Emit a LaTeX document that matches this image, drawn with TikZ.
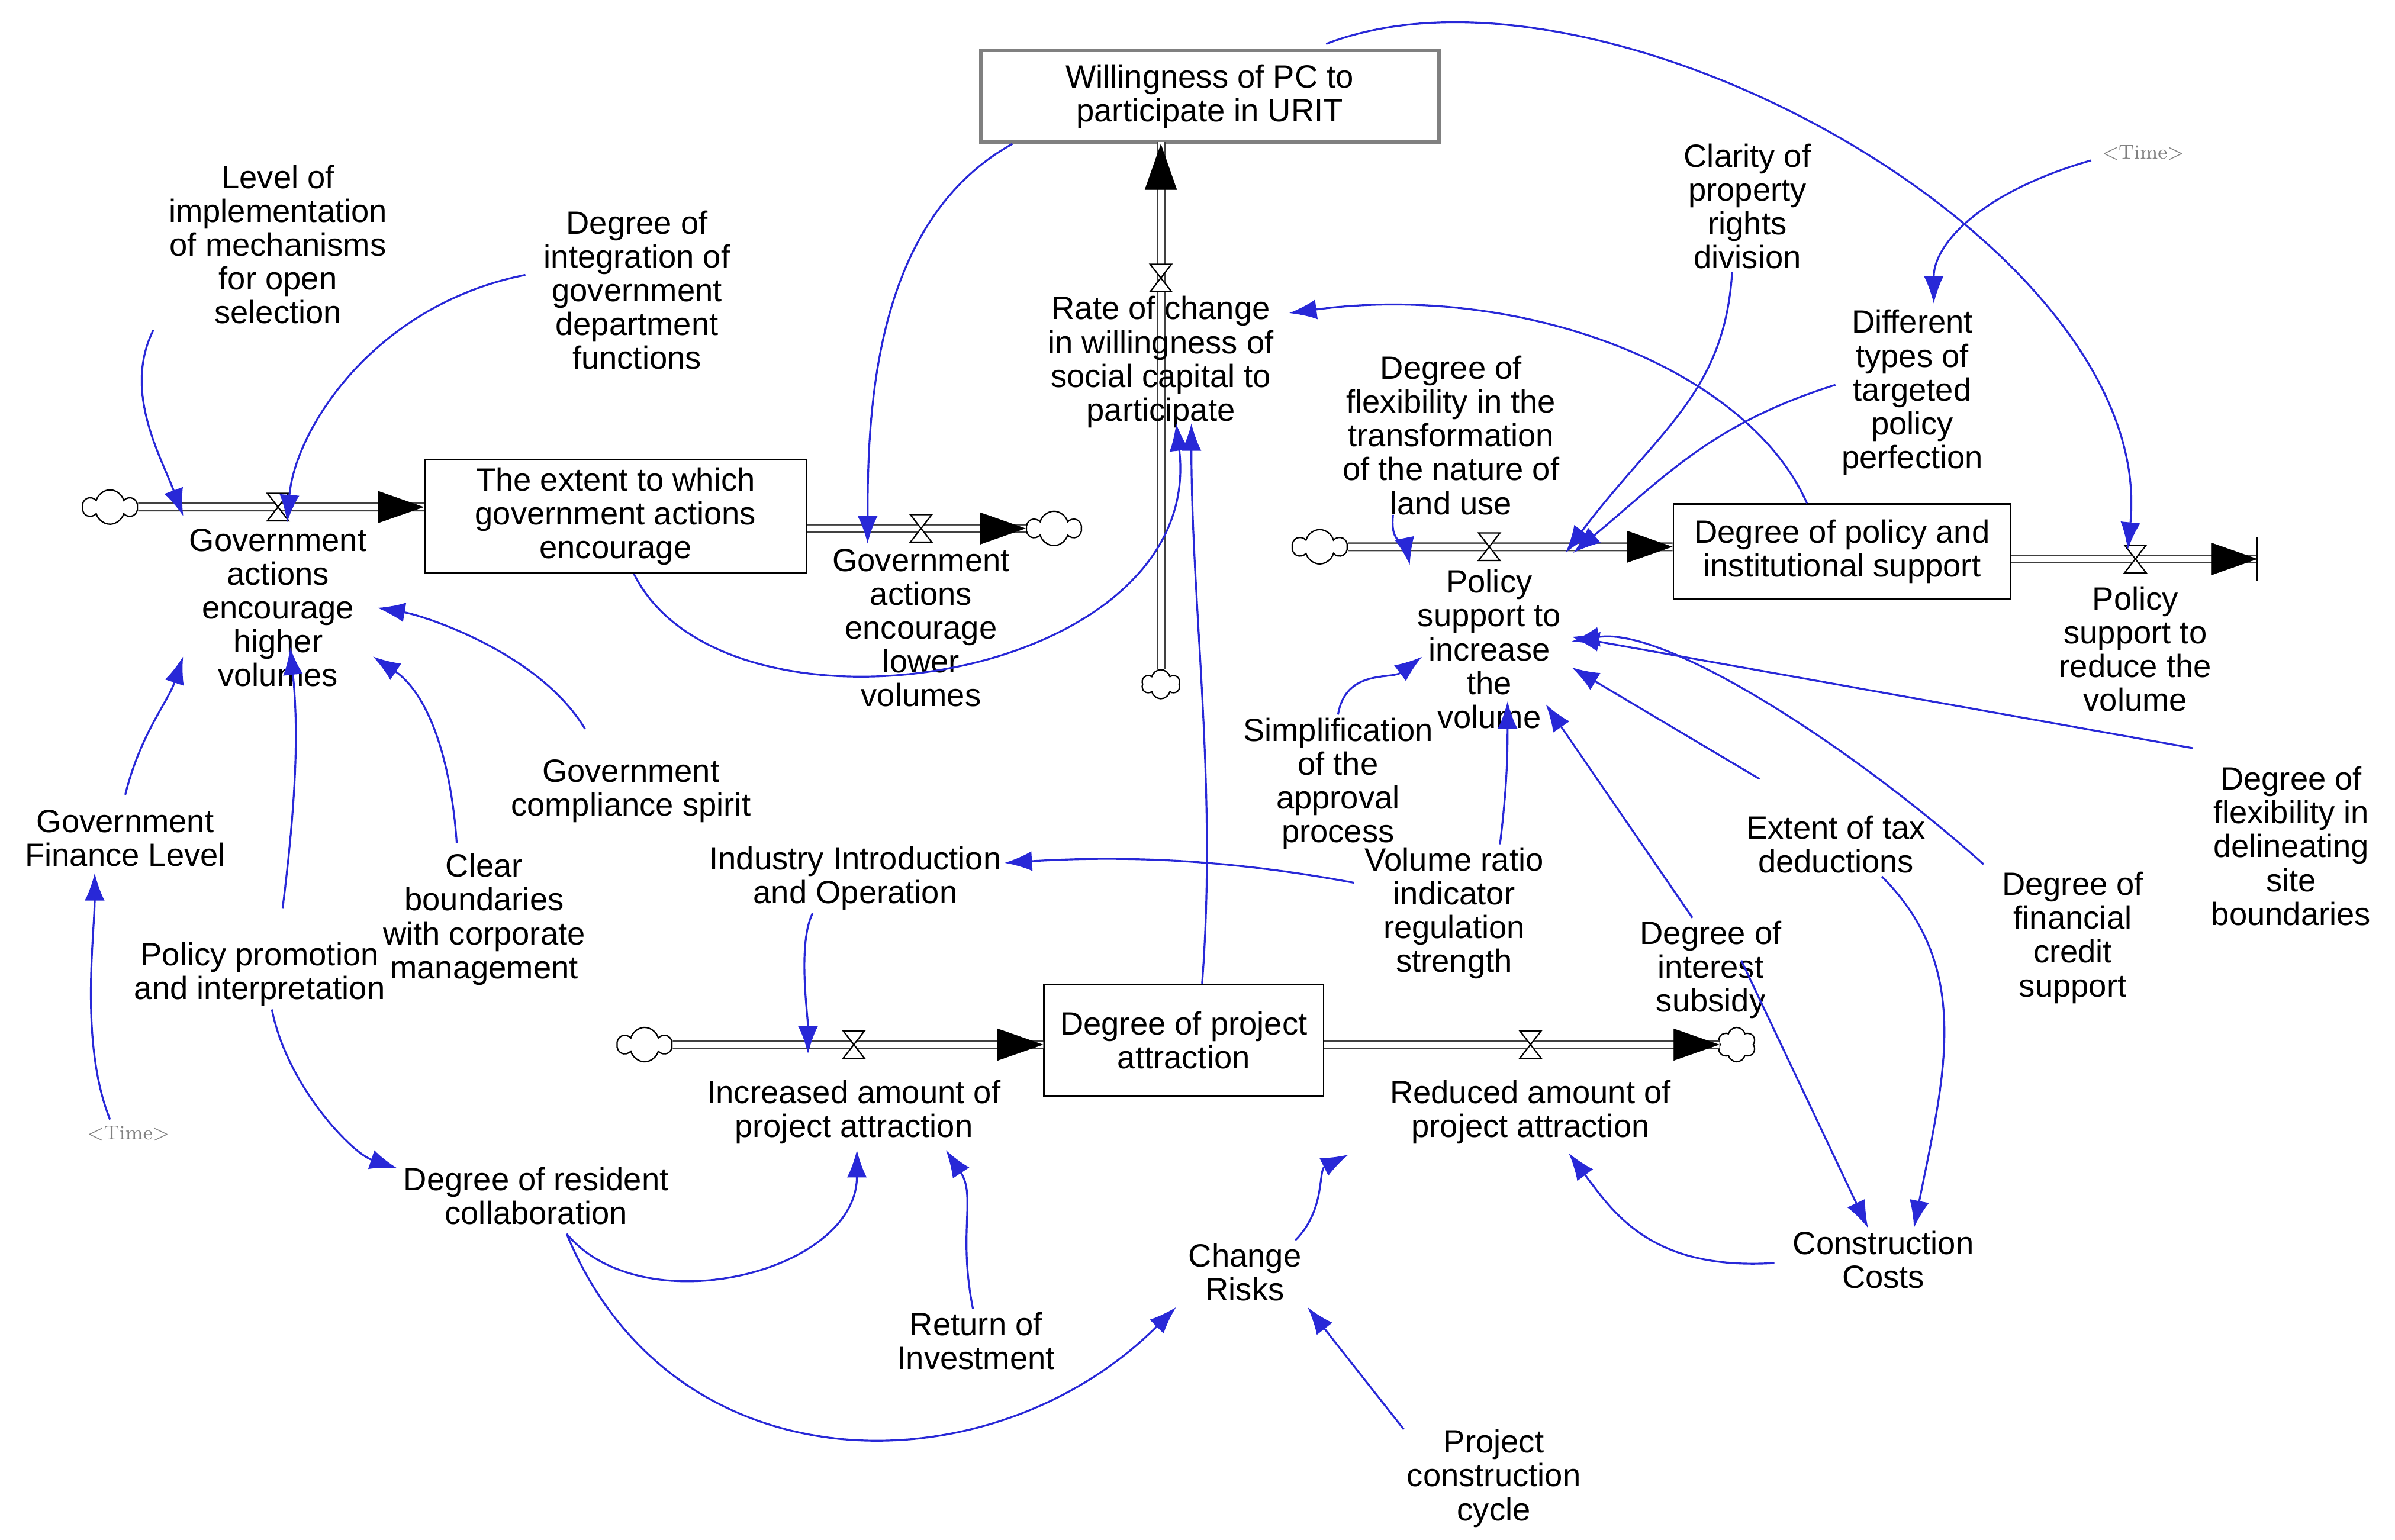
\documentclass[tikz,border=0pt]{standalone}
\usepackage{fontspec}
\setmainfont{Liberation Sans}
\usetikzlibrary{arrows.meta,calc,shapes.symbols}
\definecolor{lk}{RGB}{40,40,215}
\begin{document}
\begin{tikzpicture}[x=0.02cm,y=-0.02cm,
  txt/.style={align=center,inner sep=1pt,font=\fontsize{12}{12.6}\selectfont},
  stock/.style={txt,draw,line width=0.6pt,inner sep=3pt},
  tm/.style={inner sep=1pt,text=gray,font=\fontfamily{lmr}\fontsize{7.5}{8}\selectfont},
  lnk/.style={draw=lk,line width=0.7pt,-{Latex[length=0.36cm,width=0.26cm]}},
  pipe/.style={draw=black!75,double=white,double distance=2.2pt,line width=0.55pt},
  tip/.style={-{Triangle[length=0.6cm,width=0.42cm]},line width=0.1pt},
  cld/.style={cloud,cloud puffs=6,draw,line width=0.5pt,minimum width=0.7cm,minimum height=0.45cm,inner sep=0pt,fill=white},
  valve/.pic={\draw[line width=0.5pt,fill=white] (-7,-9)--(7,-9)--(-7,9)--(7,9)--cycle;}]
\useasboundingbox (0,0) rectangle (1568,1008);
% stocks
\node[stock,draw=gray,line width=1.4pt,minimum width=6cm,minimum height=1.2cm] (W) at (792,63) {Willingness of PC to\\participate in URIT};
\node[stock,minimum width=5cm,minimum height=1.2cm] (E) at (403,338) {The extent to which\\government actions\\encourage};
\node[stock,minimum width=4.42cm,minimum height=1.24cm] (D) at (1206,361) {Degree of policy and\\institutional support};
\node[stock,minimum width=3.66cm,minimum height=1.46cm] (P) at (775,681) {Degree of project\\attraction};
% clouds
\node[cld] (c1) at (72,332) {};
\node[cld] (c2) at (690,346) {};
\node[cld,minimum width=0.5cm,minimum height=0.38cm] (c3) at (760,448) {};
\node[cld] (c4) at (864,358) {};
\node[cld] (c6) at (422,684) {};
\node[cld,minimum width=0.5cm] (c7) at (1137,684) {};
\coordinate (e5) at (1478,366);
% pipes
\draw[pipe] (c1.east) -- (E.west|-c1);
\draw[tip] ($(E.west|-c1)+(-30,0)$) -- (E.west|-c1);
\draw[pipe] (E.east|-c2) -- (c2.west);
\draw[tip] ($(c2.west)+(-30,0)$) -- (c2.west);
\draw[pipe] (c3.north) -- (760,93);
\draw[tip] (760,123) -- (W.south-|760,0);
\draw[pipe] (c4.east) -- (D.west|-c4);
\draw[tip] ($(D.west|-c4)+(-30,0)$) -- (D.west|-c4);
\draw[pipe] (D.east|-e5) -- (e5);
\draw[tip] ($(e5)+(-30,0)$) -- (e5);
\draw[line width=0.6pt] ($(e5)+(0,-14)$) -- ($(e5)+(0,14)$);
\draw[pipe] (c6.east) -- (P.west|-c6);
\draw[tip] ($(P.west|-c6)+(-30,0)$) -- (P.west|-c6);
\draw[pipe] (P.east|-c7) -- (c7.west);
\draw[tip] ($(c7.west)+(-30,0)$) -- (c7.west);
% valves
\pic at (182,332) {valve}; \coordinate (v1) at (182,332);
\pic at (603,346) {valve}; \coordinate (v2) at (603,346);
\pic at (760,182) {valve}; \coordinate (v3) at (760,182);
\pic at (975,358) {valve}; \coordinate (v4) at (975,358);
\pic at (1398,366) {valve}; \coordinate (v5) at (1398,366);
\pic at (559,684) {valve}; \coordinate (v6) at (559,684);
\pic at (1002,684) {valve}; \coordinate (v7) at (1002,684);
% flow labels
\node[txt] (hi) at (182,398) {Government\\actions\\encourage\\higher\\volumes};
\node[txt] (lo) at (603,411) {Government\\actions\\encourage\\lower\\volumes};
\node[txt] (rate) at (760,237) {Rate of change\\in willingness of\\social capital to\\participate};
\node[txt] (inc) at (975,425) {Policy\\support to\\increase\\the\\volume};
\node[txt] (red) at (1398,425) {Policy\\support to\\reduce the\\volume};
\node[txt] (pin) at (559,728) {Increased amount of\\project attraction};
\node[txt] (pout) at (1002,728) {Reduced amount of\\project attraction};
% auxiliaries
\node[txt] (lvl) at (182,160) {Level of\\implementation\\of mechanisms\\for open\\selection};
\node[txt] (integ) at (417,190) {Degree of\\integration of\\government\\department\\functions};
\node[txt] (clar) at (1144,135) {Clarity of\\property\\rights\\division};
\node[tm] (t1) at (1403,100) {<Time>};
\node[txt] (diff) at (1252,257) {Different\\types of\\targeted\\policy\\perfection};
\node[txt] (flex) at (950,285) {Degree of\\flexibility in the\\transformation\\of the nature of\\land use};
\node[txt] (comp) at (413,518) {Government\\compliance spirit};
\node[txt] (gfin) at (82,549) {Government\\Finance Level};
\node[txt] (clear) at (317,602) {Clear\\boundaries\\with corporate\\management};
\node[txt] (promo) at (170,638) {Policy promotion\\and interpretation};
\node[tm] (t2) at (84,742) {<Time>};
\node[txt] (ind) at (560,575) {Industry Introduction\\and Operation};
\node[txt] (simp) at (876,513) {Simplification\\of the\\approval\\process};
\node[txt] (vol) at (952,598) {Volume ratio\\indicator\\regulation\\strength};
\node[txt] (tax) at (1202,553) {Extent of tax\\deductions};
\node[txt] (subs) at (1120,635) {Degree of\\interest\\subsidy};
\node[txt] (fcr) at (1357,614) {Degree of\\financial\\credit\\support};
\node[txt] (site) at (1500,554) {Degree of\\flexibility in\\delineating\\site\\boundaries};
\node[txt] (res) at (351,783) {Degree of resident\\collaboration};
\node[txt] (risk) at (815,833) {Change\\Risks};
\node[txt] (ret) at (639,878) {Return of\\Investment};
\node[txt] (cost) at (1233,825) {Construction\\Costs};
\node[txt] (cyc) at (978,968) {Project\\construction\\cycle};
% links
\draw[lnk] ($(lvl.south west)+(-8,2)$) .. controls +(-20,40) and +(-15,-40) .. ($(v1)+(-62,6)$);
\draw[lnk] ($(integ.west)+(-10,-10)$) .. controls +(-100,20) and +(5,-60) .. ($(v1)+(6,10)$);
\draw[lnk] ($(W.south west)+(22,0)$) .. controls +(-90,50) and +(0,-90) .. ($(v2)+(-35,10)$);
\draw[lnk] ($(E.south)+(12,0)$) .. controls +(60,120) and +(20,170) .. ($(rate.south)+(10,-5)$);
\draw[lnk] ($(W.north east)+(-75,-3)$) .. controls +(180,-70) and +(20,-200) .. ($(v5)+(-5,-6)$);
\draw[lnk] ($(t1.west)+(-5,5)$) .. controls +(-70,20) and +(0,-40) .. ($(diff.north)+(14,-2)$);
\draw[lnk] ($(clar.south)+(-10,0)$) .. controls +(-5,80) and +(60,-80) .. ($(v4)+(50,4)$);
\draw[lnk] ($(diff.west)+(-2,-5)$) .. controls +(-80,25) and +(60,-50) .. ($(v4)+(55,4)$);
\draw[lnk] ($(flex.south)+(-38,-2)$) .. controls +(-2,20) and +(-3,-15) .. ($(v4)+(-52,12)$);
\draw[lnk] ($(D.north west)+(88,0)$) .. controls +(-40,-90) and +(150,-20) .. ($(rate.east)+(8,-32)$);
\draw[lnk] (simp.north) .. controls +(5,-30) and +(-20,15) .. ($(inc.west)+(5,5)$);
\draw[lnk] ($(vol.north)+(30,0)$) .. controls +(5,-40) and +(0,30) .. ($(inc.south)+(12,-20)$);
\draw[lnk] ($(vol.west)+(-5,-20)$) .. controls +(-80,-15) and +(80,-5) .. ($(ind.east)+(0,-10)$);
\draw[lnk] ($(subs.north)+(-12,0)$) -- ($(inc.south east)+(-12,-18)$);
\draw[lnk] ($(subs.north)+(20,28)$) -- ($(cost.north)+(-10,0)$);
\draw[lnk] ($(tax.north)+(-50,-22)$) -- ($(inc.east)+(5,12)$);
\draw[lnk] ($(tax.south)+(30,0)$) .. controls +(60,60) and +(20,-100) .. ($(cost.north)+(20,0)$);
\draw[lnk] ($(fcr.north west)+(-10,-3)$) .. controls +(-90,-80) and +(60,-10) .. ($(inc.east)+(5,-5)$);
\draw[lnk] ($(site.north west)+(-10,-10)$) -- ($(inc.east)+(5,-8)$);
\draw[lnk] ($(P.north)+(12,0)$) .. controls +(10,-130) and +(0,120) .. ($(rate.south)+(20,-5)$);
\draw[lnk] ($(comp.north)+(-30,-18)$) .. controls +(-30,-50) and +(30,5) .. ($(hi.east)+(5,0)$);
\draw[lnk] ($(clear.north)+(-18,-5)$) .. controls +(-5,-70) and +(30,20) .. ($(hi.south east)+(2,-22)$);
\draw[lnk] ($(gfin.north)+(0,-8)$) .. controls +(10,-40) and +(-10,30) .. ($(hi.south west)+(-2,-22)$);
\draw[lnk] ($(promo.north)+(15,-20)$) .. controls +(10,-80) and +(5,50) .. ($(hi.south)+(8,-28)$);
\draw[lnk] ($(promo.south)+(8,0)$) .. controls +(10,50) and +(-30,-10) .. ($(res.west)+(-2,-18)$);
\draw[lnk] ($(t2.north)+(-12,-2)$) .. controls +(-20,-50) and +(0,40) .. ($(gfin.south)+(-20,2)$);
\draw[lnk] ($(ind.south)+(-28,0)$) .. controls +(-10,20) and +(0,-25) .. ($(v6)+(-30,6)$);
\draw[lnk] ($(res.south)+(20,4)$) .. controls +(50,60) and +(0,80) .. ($(pin.south)+(2,2)$);
\draw[lnk] ($(res.south)+(20,4)$) .. controls +(70,170) and +(-120,120) .. ($(risk.south west)+(-6,2)$);
\draw[lnk] ($(ret.north)+(-2,0)$) .. controls +(-10,-50) and +(20,30) .. ($(pin.south east)+(-38,2)$);
\draw[lnk] ($(risk.north east)+(-6,0)$) .. controls +(20,-20) and +(-20,10) .. ($(pout.south west)+(-25,5)$);
\draw[lnk] ($(cyc.north west)+(0,2)$) -- ($(risk.south east)+(2,2)$);
\draw[lnk] ($(cost.west)+(-10,2)$) .. controls +(-80,5) and +(30,40) .. ($(pout.south)+(25,4)$);
\end{tikzpicture}
\end{document}
